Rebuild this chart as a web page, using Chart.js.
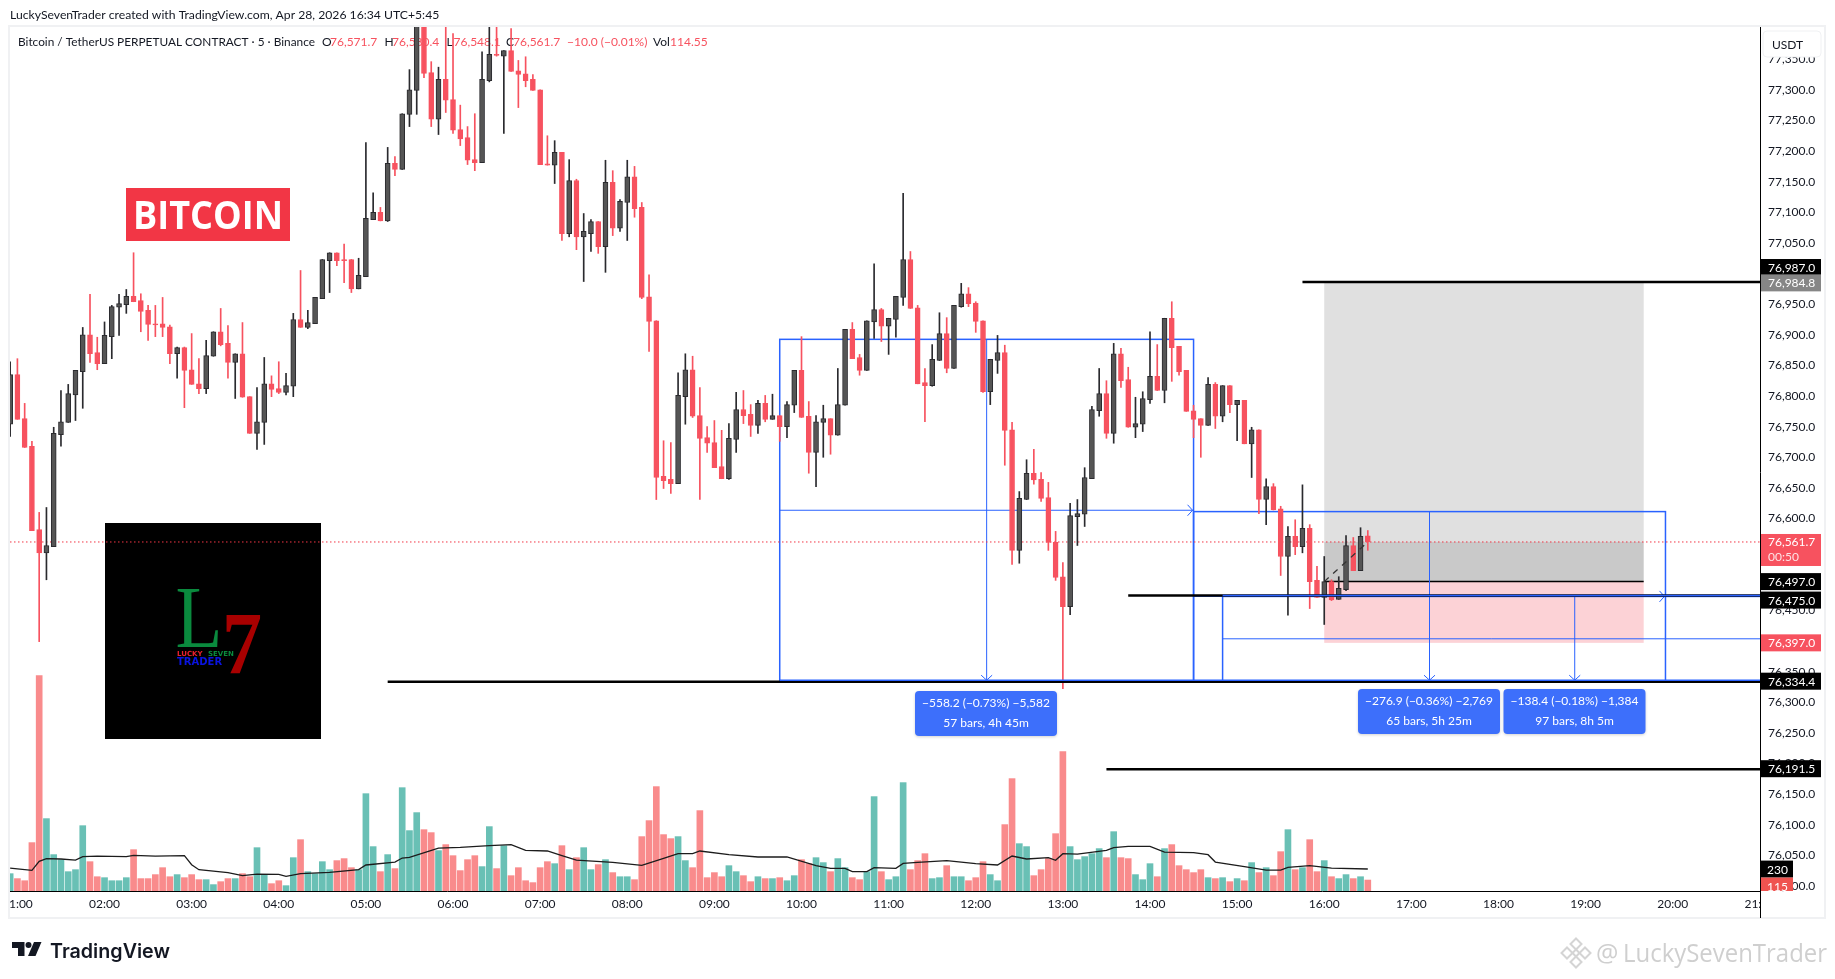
<!DOCTYPE html>
<html>
<head>
    <meta charset="utf-8">
    <title>Bitcoin / TetherUS chart</title>
    <script src="https://cdn.jsdelivr.net/npm/chart.js"></script>
    <style>
        html, body { margin: 0; padding: 0; background: #fff; }
        canvas { display: block; }
    </style>
</head>
<body>
    <canvas id="chart" width="1835" height="979"></canvas>

    <script>
        // 5 minute bars, first bar is 00:55
        const opens = [
            76754,76835,76763,76718,76582,76544,76554,76737,76757,76802,
            76840,76900,76871,76853,76897,76945,76949,76963,76956,76940,
            76918,76918,76913,76869,76879,76843,76820,76812,76865,76905,
            76886,76855,76869,76799,76739,76757,76820,76812,76806,76816,
            76925,76912,76918,76959,77021,77034,77023,77023,76975,76995,
            77088,77100,77086,77180,77170,77260,77299,77430,77328,77252,
            77317,77284,77235,77222,77186,77181,77315,77358,77355,77364,
            77331,77326,77317,77300,77179,77177,77198,77065,77152,77060,
            77065,77085,77044,77149,77074,77116,77158,77108,76962,76923,
            76669,76664,76657,76799,76843,76768,76732,76724,76685,76665,
            76729,76778,76770,76752,76788,76762,76768,76750,76785,76842,
            76767,76708,76757,76763,76736,76785,76909,76863,76842,76921,
            76941,76914,76925,76961,77023,76944,76822,76817,76858,76902,
            76845,76946,76967,76952,76923,76807,76858,76871,76745,76548,
            76631,76674,76664,76634,76561,76505,76456,76603,76607,76665,
            76776,76804,76739,76869,76827,76749,76754,76794,76832,76809,
            76927,76881,76842,76776,76763,76752,76819,76767,76817,76786,
            76793,76722,76745,76631,76652,76616,76538,76571,76554,76584,
            76499,76471,76497,76468,76484,76556,76515,76571.7
        ];
        const highs = [
            76856,76861,76788,76726,76610,76618,76749,76809,76819,76842,
            76912,76966,76896,76921,76948,76966,76974,77034,76967,76948,
            76948,76961,76916,76880,76880,76902,76861,76891,76905,76943,
            76915,76869,76920,76799,76814,76863,76833,76856,76837,76935,
            77005,76940,76961,77023,77034,77034,77048,77023,77025,77214,
            77132,77108,77206,77191,77261,77333,77470,77450,77346,77337,
            77440,77392,77275,77240,77261,77362,77410,77410,77364,77400,
            77348,77354,77325,77300,77225,77217,77198,77186,77154,77098,
            77088,77085,77185,77168,77121,77185,77175,77116,76998,76923,
            76727,76724,76838,76869,76865,76814,76750,76760,76744,76755,
            76806,76809,76786,76793,76801,76803,76768,76791,76842,76897,
            76791,76768,76785,76763,76845,76909,76920,76868,76923,77016,
            76943,76927,76963,77131,77036,76948,76845,76884,76936,76928,
            76948,76984,76977,76954,76923,76860,76899,76883,76757,76644,
            76696,76713,76675,76659,76579,76528,76625,76631,76683,76783,
            76845,76825,76886,76878,76847,76798,76807,76905,76884,76927,
            76954,76881,76842,76785,76763,76830,76822,76817,76817,76793,
            76793,76749,76745,76665,76657,76620,76587,76598,76655,76590,
            76522,76538,76500,76505,76572,76569,76585,76580.4
        ];
        const lows = [
            76734,76762,76716,76580,76399,76500,76554,76718,76757,76760,
            76780,76855,76843,76853,76861,76899,76935,76954,76905,76891,
            76897,76897,76853,76829,76781,76819,76804,76804,76865,76882,
            76829,76796,76798,76739,76713,76721,76799,76804,76802,76799,
            76912,76910,76918,76959,76969,77013,76985,76969,76975,76995,
            77088,77086,77085,77160,77170,77240,77260,77320,77240,77227,
            77263,77229,77209,77178,77168,77181,77313,77355,77229,77330,
            77271,77305,77299,77178,77177,77147,77054,77060,77039,76987,
            77036,77033,77002,77062,77069,77054,77092,76959,76873,76631,
            76649,76641,76657,76754,76765,76631,76708,76683,76665,76664,
            76708,76755,76734,76739,76758,76762,76726,76732,76773,76765,
            76674,76652,76700,76705,76736,76785,76861,76834,76842,76894,
            76889,76868,76896,76948,76943,76820,76758,76816,76858,76838,
            76845,76945,76946,76904,76806,76786,76837,76687,76525,76527,
            76631,76656,76628,76548,76499,76322,76443,76556,76587,76665,
            76767,76731,76723,76814,76749,76732,76742,76788,76809,76789,
            76824,76834,76775,76732,76700,76752,76747,76758,76773,76727,
            76722,76667,76608,76590,76614,76507,76442,76541,76544,76453,
            76471,76427,76466,76468,76482,76515,76515,76548.1
        ];
        const closes = [
            76835,76762,76716,76580,76544,76556,76739,76758,76804,76842,
            76900,76869,76853,76899,76946,76951,76963,76954,76938,76917,
            76916,76912,76869,76879,76842,76819,76812,76866,76905,76884,
            76855,76869,76798,76739,76758,76820,76811,76806,76817,76925,
            76912,76920,76961,77023,77034,77021,77021,76975,76997,77090,
            77100,77086,77180,77170,77261,77300,77430,77327,77252,77317,
            77283,77234,77220,77185,77181,77317,77358,77356,77364,77330,
            77325,77315,77299,77178,77177,77198,77065,77152,77060,77069,
            77085,77044,77149,77074,77118,77158,77106,76961,76922,76667,
            76662,76657,76801,76843,76767,76731,76723,76683,76665,76731,
            76778,76768,76752,76788,76762,76768,76750,76786,76842,76765,
            76708,76758,76763,76736,76786,76909,76861,76842,76923,76941,
            76914,76927,76963,77023,76943,76820,76817,76860,76902,76845,
            76948,76967,76951,76922,76807,76860,76871,76744,76548,76633,
            76674,76663,76633,76561,76504,76456,76605,76608,76667,76778,
            76804,76739,76869,76825,76749,76755,76796,76832,76809,76927,
            76879,76840,76775,76762,76752,76819,76767,76817,76786,76793,
            76722,76745,76631,76652,76614,76538,76571,76554,76584,76497,
            76471,76497,76467,76486,76556,76515,76571,76561.7
        ];
        const volumes = [
            182,130,108,508,2261,760,382,329,203,224,
            686,308,150,140,108,108,140,434,130,130,
            172,245,150,172,140,172,119,119,67,98,
            130,130,182,150,455,172,77,108,56,350,
            539,203,182,308,224,319,340,245,224,1022,
            466,203,382,235,1085,634,823,644,613,424,
            487,371,214,329,371,256,676,235,476,161,
            245,108,88,245,308,287,476,224,350,455,
            224,277,329,193,150,150,119,571,739,1096,
            592,550,571,319,245,844,140,193,150,266,
            203,161,98,150,130,130,140,108,161,329,
            287,350,298,203,340,245,140,119,203,991,
            203,119,150,1138,224,319,392,130,140,266,
            150,150,108,140,308,172,108,697,1180,497,
            466,161,224,340,602,1463,466,329,361,392,
            445,350,623,350,340,172,119,287,150,445,
            487,266,224,193,224,140,130,140,98,130,
            108,298,193,245,161,413,644,224,245,539,
            203,319,150,130,172,130,150,115
        ];

        // volume moving average, read at these bar numbers
        const maBars = [0,3,4,5,7,9,10,12,16,17,20,24,25,26,30,32,34,37,38,40,44,48,49,53,54,55,59,62,66,69,71,74,76,78,83,87,90,92,94,95,99,103,107,111,113,115,116,118,119,122,123,125,129,133,136,138,140,143,144,145,147,151,152,154,157,159,163,165,166,170,173,175,176,179,182,187];
        const maValues = [241,217,311,339,336,325,360,367,360,374,367,371,276,224,192,161,178,175,154,182,196,224,273,304,346,353,451,458,476,486,427,420,371,325,301,269,343,392,392,420,381,357,357,266,238,238,203,203,245,238,290,301,318,287,273,367,336,350,322,392,388,427,455,469,469,409,402,381,304,255,220,220,248,266,241,231];

        const priceTicks = [76000,76050,76100,76150,76200,76250,76300,76350,76400,76450,76500,76550,76600,76650,76700,76750,76800,76850,76900,76950,77000,77050,77100,77150,77200,77250,77300,77350];
        const timeTicks = [60,120,180,240,300,360,420,480,540,600,660,720,780,840,900,960,1020,1080,1140,1200,1260];

        // right side price tags
        const tagPrices = [76987,76984.8,76497,76475,76397,76334.4,76191.5];
        const lastPrice = 76561.7;
        const lastCountdown = '00:50';
        const volumeMaLast = 230;
        const volumeLast = 115;

        // horizontal levels: price and the minute they start
        const levelPrices = [76987,76475,76334.4,76191.5];
        const levelStarts = [945,825,315,810];

        // position box
        const boxTimes = [960,1180];
        const boxPrices = [76984.8,76497,76397];
        const dashedTimes = [960,990];
        const dashedPrices = [76497,76561.7];

        // measure tools
        const measureStarts = [585,870,890];
        const measureEnds = [870,1195,1375];
        const measureTops = [76892.6,76611.3,76472.8];
        const measureBottom = 76334.4;
        const measureLine1 = ['−558.2 (−0.73%) −5,582','−276.9 (−0.36%) −2,769','−138.4 (−0.18%) −1,384'];
        const measureLine2 = ['57 bars, 4h 45m','65 bars, 5h 25m','97 bars, 8h 5m'];

        const FONT = 'Lato, "Noto Sans", sans-serif';
        const RED = '#f7525f';
        const barTimes = opens.map((v, i) => 55 + i * 5);
        const isUp = opens.map((v, i) => closes[i] >= v);

        function text(ctx, str, x, y, font, color, align, maxWidth) {
            ctx.font = font;
            ctx.fillStyle = color;
            ctx.textAlign = align || 'left';
            ctx.textBaseline = 'alphabetic';
            if (maxWidth) ctx.fillText(str, x, y, maxWidth);
            else ctx.fillText(str, x, y);
        }

        function line(ctx, x1, y1, x2, y2, color, width) {
            ctx.strokeStyle = color;
            ctx.lineWidth = width;
            ctx.beginPath();
            ctx.moveTo(x1, y1);
            ctx.lineTo(x2, y2);
            ctx.stroke();
        }

        function roundBox(ctx, x, y, w, h, r) {
            ctx.beginPath();
            ctx.roundRect(x, y, w, h, r);
        }

        function drawLogo(ctx) {
            ctx.fillStyle = '#000';
            ctx.fillRect(105, 523, 216, 216);
            text(ctx, 'L', 175.5, 647, '88px "Liberation Serif"', '#0a8a3e', 'left', 47);
            text(ctx, '7', 222, 673, 'bold 88px "Liberation Serif"', '#a80000', 'left', 40);
            text(ctx, 'LUCKY', 177, 656, 'bold 7px "DejaVu Sans"', '#e8202c', 'left', 28);
            text(ctx, 'SEVEN', 208, 656, 'bold 7px "DejaVu Sans"', '#0a8a3e', 'left', 27);
            text(ctx, 'TRADER', 177, 664.5, 'bold 10px "DejaVu Sans"', '#0a14e0', 'left', 53);
        }

        function drawMeasures(ctx, chart, x, y) {
            const a = chart.chartArea;
            const blue = '#2962ff';
            const yb = y.getPixelForValue(measureBottom);
            ctx.save();
            ctx.beginPath();
            ctx.rect(a.left, a.top, a.right - a.left, a.bottom - a.top);
            ctx.clip();
            measureStarts.forEach((t, i) => {
                const x1 = x.getPixelForValue(t);
                const x2 = x.getPixelForValue(measureEnds[i]);
                const yt = y.getPixelForValue(measureTops[i]);
                const xm = (x1 + x2) / 2;
                const ym = (yt + yb) / 2;
                ctx.strokeStyle = blue;
                ctx.lineWidth = 1.5;
                ctx.strokeRect(x1, yt, x2 - x1, yb - yt);
                line(ctx, x1, ym, x2, ym, blue, 1);
                line(ctx, xm, yt, xm, yb, blue, 1);
                // arrow heads
                ctx.strokeStyle = blue;
                ctx.lineWidth = 1;
                ctx.beginPath();
                ctx.moveTo(xm - 5.5, yb - 6);
                ctx.lineTo(xm, yb - 1);
                ctx.lineTo(xm + 5.5, yb - 6);
                ctx.moveTo(x2 - 6, ym - 5.5);
                ctx.lineTo(x2 - 1, ym);
                ctx.lineTo(x2 - 6, ym + 5.5);
                ctx.stroke();
            });
            ctx.restore();
        }

        function drawMeasureLabels(ctx, x) {
            const bx = [915, 1358, 1503.5];
            const by = [691, 689, 689];
            measureStarts.forEach((t, i) => {
                const w = 142;
                const h = 45;
                ctx.save();
                ctx.shadowColor = 'rgba(0,0,0,0.18)';
                ctx.shadowBlur = 3;
                ctx.shadowOffsetY = 1;
                ctx.fillStyle = '#3d6ffb';
                roundBox(ctx, bx[i], by[i], w, h, 4);
                ctx.fill();
                ctx.restore();
                text(ctx, measureLine1[i], bx[i] + w / 2, by[i] + 16, '12px ' + FONT, '#fff', 'center');
                text(ctx, measureLine2[i], bx[i] + w / 2, by[i] + 36, '12px ' + FONT, '#fff', 'center');
            });
        }

        function drawHeader(ctx) {
            text(ctx, 'LuckySevenTrader created with TradingView.com, Apr 28, 2026 16:34 UTC+5:45', 10, 19, '12.2px ' + FONT, '#131722');
            const dark = '#131722';
            const f = '12px ' + FONT;
            text(ctx, 'Bitcoin / TetherUS PERPETUAL CONTRACT · 5 · Binance', 18, 46, f, dark, 'left', 297);
            text(ctx, 'O', 322, 46, f, dark);
            text(ctx, '76,571.7', 330, 46, f, RED);
            text(ctx, 'H', 384.5, 46, f, dark);
            text(ctx, '76,580.4', 392, 46, f, RED);
            text(ctx, 'L', 446.5, 46, f, dark);
            text(ctx, '76,548.1', 453.5, 46, f, RED);
            text(ctx, 'C', 506, 46, f, dark);
            text(ctx, '76,561.7', 513, 46, f, RED);
            text(ctx, '−10.0 (−0.01%)', 567, 46, f, RED);
            text(ctx, 'Vol', 653, 46, f, dark);
            text(ctx, '114.55', 670, 46, f, RED);
        }

        function drawFooter(ctx) {
            // TradingView mark
            ctx.fillStyle = '#131722';
            ctx.beginPath();
            ctx.moveTo(12, 942);
            ctx.lineTo(24.5, 942);
            ctx.lineTo(24.5, 956);
            ctx.lineTo(18, 956);
            ctx.lineTo(18, 948);
            ctx.lineTo(12, 948);
            ctx.closePath();
            ctx.fill();
            ctx.beginPath();
            ctx.arc(28.5, 945, 3, 0, Math.PI * 2);
            ctx.fill();
            ctx.beginPath();
            ctx.moveTo(34, 942);
            ctx.lineTo(41.5, 942);
            ctx.lineTo(35.5, 956);
            ctx.lineTo(28, 956);
            ctx.closePath();
            ctx.fill();
            text(ctx, 'TradingView', 50, 958, '600 20px Inter, "Noto Sans"', '#131722', 'left', 120);

            // watermark
            const cx = 1576, cy = 953;
            ctx.strokeStyle = '#d4d4d4';
            ctx.lineWidth = 2;
            [[0, -9], [-9, 0], [9, 0], [0, 9], [0, 0]].forEach(p => {
                const r = p[0] === 0 && p[1] === 0 ? 3.5 : 5.5;
                ctx.beginPath();
                ctx.moveTo(cx + p[0], cy + p[1] - r);
                ctx.lineTo(cx + p[0] + r, cy + p[1]);
                ctx.lineTo(cx + p[0], cy + p[1] + r);
                ctx.lineTo(cx + p[0] - r, cy + p[1]);
                ctx.closePath();
                ctx.stroke();
            });
            text(ctx, '@', 1596, 962, '25px "Open Sans"', '#cfcfcf');
            text(ctx, 'LuckySevenTrader', 1623, 962, '25px "Open Sans"', '#cfcfcf', 'left', 204);
        }

        function priceLabel(v) {
            return v.toLocaleString('en-US', { minimumFractionDigits: 1, maximumFractionDigits: 1 });
        }

        const tvPlugin = {
            id: 'tvPlugin',
            beforeDatasetsDraw(chart) {
                const ctx = chart.ctx;
                const a = chart.chartArea;
                const x = chart.scales.x;
                const y = chart.scales.y;

                drawHeader(ctx);

                // position box
                const bx1 = x.getPixelForValue(boxTimes[0]);
                const bx2 = x.getPixelForValue(boxTimes[1]);
                const pTop = y.getPixelForValue(boxPrices[0]);
                const pMid = y.getPixelForValue(boxPrices[1]);
                const pBot = y.getPixelForValue(boxPrices[2]);
                const pLast = y.getPixelForValue(lastPrice);
                ctx.fillStyle = '#e0e0e0';
                ctx.fillRect(bx1, pTop, bx2 - bx1, pLast - pTop);
                ctx.fillStyle = '#c9c9c9';
                ctx.fillRect(bx1, pLast, bx2 - bx1, pMid - pLast);
                ctx.fillStyle = '#fcd2d6';
                ctx.fillRect(bx1, pMid, bx2 - bx1, pBot - pMid);
                line(ctx, bx1, pMid, bx2, pMid, '#000', 1.5);

                drawMeasures(ctx, chart, x, y);
                drawLogo(ctx);

                // BITCOIN badge
                ctx.fillStyle = '#f23645';
                ctx.fillRect(126, 188, 164, 53);
                text(ctx, 'BITCOIN', 208, 229, 'bold 39px "Open Sans"', '#fff', 'center', 150);

                // last price dotted line
                ctx.save();
                ctx.setLineDash([1.5, 2.5]);
                line(ctx, a.left, pLast, a.right, pLast, '#f23645', 1);
                ctx.restore();
            },
            afterDatasetsDraw(chart) {
                const ctx = chart.ctx;
                const a = chart.chartArea;
                const x = chart.scales.x;
                const y = chart.scales.y;

                // dashed line inside the position box
                ctx.save();
                ctx.setLineDash([6, 6]);
                line(ctx, x.getPixelForValue(dashedTimes[0]), y.getPixelForValue(dashedPrices[0]),
                    x.getPixelForValue(dashedTimes[1]), y.getPixelForValue(dashedPrices[1]), '#333', 1.3);
                ctx.restore();

                levelPrices.forEach((p, i) => {
                    const py = y.getPixelForValue(p);
                    line(ctx, x.getPixelForValue(levelStarts[i]), py + 0.5, a.right, py + 0.5, '#000', 2.5);
                });
                // blue lines sit over the black levels at 76,475 and 76,334.4
                const y2 = y.getPixelForValue(measureTops[2]);
                line(ctx, x.getPixelForValue(measureStarts[2]), y2 - 1, a.right, y2 - 1, '#2962ff', 1.5);
                const yb = y.getPixelForValue(measureBottom);
                line(ctx, x.getPixelForValue(measureStarts[0]), yb - 1, a.right, yb - 1, '#2962ff', 1.5);

                drawMeasureLabels(ctx, x);
            },
            afterDraw(chart) {
                const ctx = chart.ctx;
                const a = chart.chartArea;
                const y = chart.scales.y;
                const v = chart.scales.volume;

                // cut the time labels at the pane edges
                ctx.fillStyle = '#fff';
                ctx.fillRect(0, a.bottom + 1, a.left - 1, 30);
                ctx.fillRect(a.right + 1, a.bottom + 1, 70, 26);
                ctx.fillRect(a.right + 1, 0, 70, 27);

                // frame
                ctx.strokeStyle = '#f0f1f3';
                ctx.lineWidth = 2;
                ctx.strokeRect(9, 26, 1816, 892);
                line(ctx, a.right + 0.5, a.top, a.right + 0.5, 918, '#000', 1);
                line(ctx, a.left, a.bottom + 0.5, a.right, a.bottom + 0.5, '#000', 1);

                // USDT box
                ctx.fillStyle = '#fff';
                roundBox(ctx, 1763, 31, 58, 26, 4);
                ctx.fill();
                ctx.strokeStyle = '#f0f1f3';
                ctx.lineWidth = 1;
                ctx.stroke();
                text(ctx, 'USDT', 1772, 49, '12px ' + FONT, '#131722');

                // price tags
                const tagBg = ['#000', '#868686', '#000', '#000', RED, '#000', '#000'];
                const tagShift = [-14, 0, 0, 5, 0, 0, 0];
                tagPrices.forEach((p, i) => {
                    const py = y.getPixelForValue(p) + tagShift[i];
                    ctx.fillStyle = tagBg[i];
                    ctx.fillRect(a.right + 1, py - 8.5, 60, 17);
                    text(ctx, priceLabel(p), 1768, py + 4.5, '12px ' + FONT, '#fff');
                });

                const py = y.getPixelForValue(lastPrice);
                ctx.fillStyle = RED;
                ctx.fillRect(a.right + 1, py - 8, 60, 32);
                text(ctx, priceLabel(lastPrice), 1768, py + 4.5, '12px ' + FONT, '#fff');
                text(ctx, lastCountdown, 1768, py + 19, '12px ' + FONT, '#fde2e4');

                const vy = v.getPixelForValue(volumeMaLast);
                ctx.fillStyle = '#000';
                ctx.fillRect(a.right + 1, vy - 8.5, 32, 17);
                text(ctx, String(volumeMaLast), 1767, vy + 4.5, '12px ' + FONT, '#fff');
                ctx.fillStyle = '#ef5350';
                ctx.fillRect(a.right + 1, vy + 8.5, 32, a.bottom - vy - 8.5);
                ctx.save();
                ctx.beginPath();
                ctx.rect(a.right + 1, vy + 8.5, 32, a.bottom - vy - 8.5);
                ctx.clip();
                text(ctx, String(volumeLast), 1767, a.bottom + 0, '12px ' + FONT, '#fff');
                ctx.restore();

                drawFooter(ctx);
            }
        };

        const ctx = document.getElementById('chart').getContext('2d');
        const myChart = new Chart(ctx, {
            data: {
                datasets: [
                    {
                        type: 'bar',
                        label: 'Body',
                        order: 1,
                        yAxisID: 'y',
                        grouped: false,
                        barThickness: 5,
                        borderWidth: 1,
                        borderSkipped: false,
                        data: barTimes.map((t, i) => ({ x: t, y: [Math.min(opens[i], closes[i]), Math.max(opens[i], closes[i])] })),
                        backgroundColor: isUp.map(u => u ? '#555555' : RED),
                        borderColor: isUp.map(u => u ? '#2a2a2e' : RED)
                    },
                    {
                        type: 'bar',
                        label: 'Wick',
                        order: 2,
                        yAxisID: 'y',
                        grouped: false,
                        barThickness: 1,
                        data: barTimes.map((t, i) => ({ x: t, y: [lows[i], highs[i]] })),
                        backgroundColor: isUp.map(u => u ? '#2a2a2e' : RED)
                    },
                    {
                        type: 'line',
                        label: 'Volume MA',
                        order: 3,
                        yAxisID: 'volume',
                        data: maBars.map((b, i) => ({ x: barTimes[b], y: maValues[i] })),
                        borderColor: '#1c1c1c',
                        borderWidth: 1.3,
                        pointRadius: 0,
                        tension: 0
                    },
                    {
                        type: 'bar',
                        label: 'Volume',
                        order: 4,
                        yAxisID: 'volume',
                        grouped: false,
                        barThickness: 6,
                        data: barTimes.map((t, i) => ({ x: t, y: volumes[i] })),
                        backgroundColor: isUp.map(u => u ? '#69c0b5' : '#f98b8c')
                    }
                ]
            },
            options: {
                responsive: false,
                animation: false,
                layout: { padding: { left: 10, top: 27, right: 0, bottom: 61 } },
                plugins: { legend: { display: false }, tooltip: { enabled: false } },
                scales: {
                    x: {
                        type: 'linear',
                        offset: false,
                        min: 54.9,
                        max: 1260.1,
                        grid: { display: false, drawTicks: false, offset: false },
                        border: { display: false },
                        afterBuildTicks: s => { s.ticks = timeTicks.map(t => ({ value: t })); },
                        afterFit: s => { s.height = 27; s.paddingLeft = 0; s.paddingRight = 0; },
                        ticks: {
                            autoSkip: false,
                            maxRotation: 0,
                            padding: 6,
                            color: '#131722',
                            font: { family: FONT, size: 12 },
                            callback: v => String(v / 60).padStart(2, '0') + ':00'
                        }
                    },
                    y: {
                        type: 'linear',
                        position: 'right',
                        min: 75991.8,
                        max: 77402.6,
                        grid: { display: false, drawTicks: false },
                        border: { display: false },
                        afterBuildTicks: s => { s.ticks = priceTicks.map(t => ({ value: t })); },
                        afterFit: s => { s.width = 75; s.paddingTop = 0; s.paddingBottom = 0; },
                        ticks: {
                            autoSkip: false,
                            crossAlign: 'near',
                            padding: 8,
                            color: '#131722',
                            font: { family: FONT, size: 12 },
                            callback: v => priceLabel(v)
                        }
                    },
                    volume: {
                        type: 'linear',
                        display: false,
                        min: 0,
                        max: 9072
                    }
                }
            },
            plugins: [tvPlugin]
        });
    </script>
</body>
</html>
